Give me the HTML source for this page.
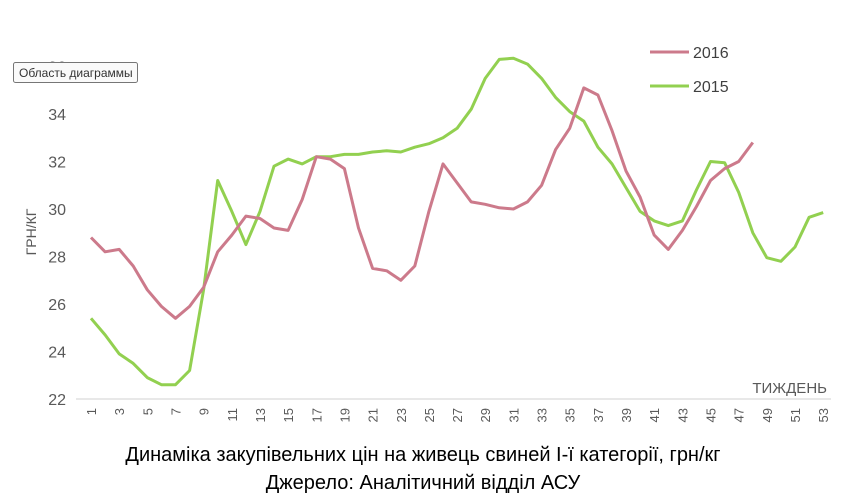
<!DOCTYPE html>
<html><head><meta charset="utf-8"><style>
html,body{margin:0;padding:0;background:#fff;}
svg{display:block;font-family:"Liberation Sans",sans-serif;}
</style></head><body>
<svg width="853" height="497" viewBox="0 0 853 497" xmlns="http://www.w3.org/2000/svg">
<rect width="853" height="497" fill="#fff"/>
<line x1="76" y1="399" x2="831" y2="399" stroke="#d9d9d9" stroke-width="1.3"/>
<g id="yl" fill="#595959" font-size="16" text-anchor="end"></g>
<g id="xl" fill="#595959" font-size="13"></g>
<text x="36" y="232" transform="rotate(-90 36 232)" fill="#595959" font-size="14" text-anchor="middle">ГРН/КГ</text>
<text x="827" y="393" fill="#595959" font-size="15" text-anchor="end">ТИЖДЕНЬ</text>
<polyline id="g" fill="none" stroke="#92d050" stroke-width="3" stroke-linejoin="round"/>
<polyline id="p" fill="none" stroke="#cc7a8b" stroke-width="3" stroke-linejoin="round"/>
<line x1="650" y1="52" x2="689" y2="52" stroke="#cc7a8b" stroke-width="3"/>
<text x="693" y="58" fill="#404040" font-size="16">2016</text>
<line x1="650" y1="86" x2="689" y2="86" stroke="#92d050" stroke-width="3"/>
<text x="693" y="92" fill="#404040" font-size="16">2015</text>
<rect x="13.5" y="62.5" width="124" height="20" rx="2" fill="#fafafa" stroke="#767676"/>
<text x="19" y="77" fill="#333" font-size="12">Область диаграммы</text>
<text x="423" y="461" fill="#000" font-size="20" text-anchor="middle">Динаміка закупівельних цін на живець свиней І-ї категорії, грн/кг</text>
<text x="423" y="489" fill="#000" font-size="20" text-anchor="middle">Джерело: Аналітичний відділ АСУ</text>
</svg>
<script>
var X=w=>91+(w-1)*14.08, Y=v=>399-(v-22)*23.75;
var p=[28.8,28.2,28.3,27.6,26.6,25.9,25.4,25.9,26.7,28.2,28.9,29.7,29.6,29.2,29.1,30.4,32.2,32.1,31.7,29.2,27.5,27.4,27.0,27.6,29.9,31.9,31.1,30.3,30.2,30.05,30.0,30.3,31.0,32.5,33.4,35.1,34.8,33.3,31.6,30.5,28.9,28.3,29.1,30.1,31.2,31.7,32.0,32.8];
var g=[25.4,24.7,23.9,23.5,22.9,22.6,22.6,23.2,26.6,31.2,29.9,28.5,29.9,31.8,32.1,31.9,32.2,32.2,32.3,32.3,32.4,32.45,32.4,32.6,32.75,33.0,33.4,34.2,35.5,36.3,36.35,36.1,35.5,34.7,34.1,33.7,32.6,31.9,30.9,29.9,29.5,29.3,29.5,30.8,32.0,31.95,30.7,29.0,27.95,27.8,28.4,29.65,29.85];
function pts(a){return a.map((v,i)=>X(i+1).toFixed(1)+","+Y(v).toFixed(1)).join(" ");}
document.getElementById("p").setAttribute("points",pts(p));
document.getElementById("g").setAttribute("points",pts(g));
var ns="http://www.w3.org/2000/svg",yl=document.getElementById("yl"),xl=document.getElementById("xl");
for(var v=22;v<=36;v+=2){var t=document.createElementNS(ns,"text");t.setAttribute("x",66);t.setAttribute("y",Y(v)+6);t.textContent=v;yl.appendChild(t);}
for(var w=1;w<=53;w+=2){var t=document.createElementNS(ns,"text");var x=X(w)+5,y=408;t.setAttribute("x",x);t.setAttribute("y",y);t.setAttribute("text-anchor","end");t.setAttribute("transform","rotate(-90 "+x+" "+y+")");t.textContent=w;xl.appendChild(t);}
</script>
</body></html>
